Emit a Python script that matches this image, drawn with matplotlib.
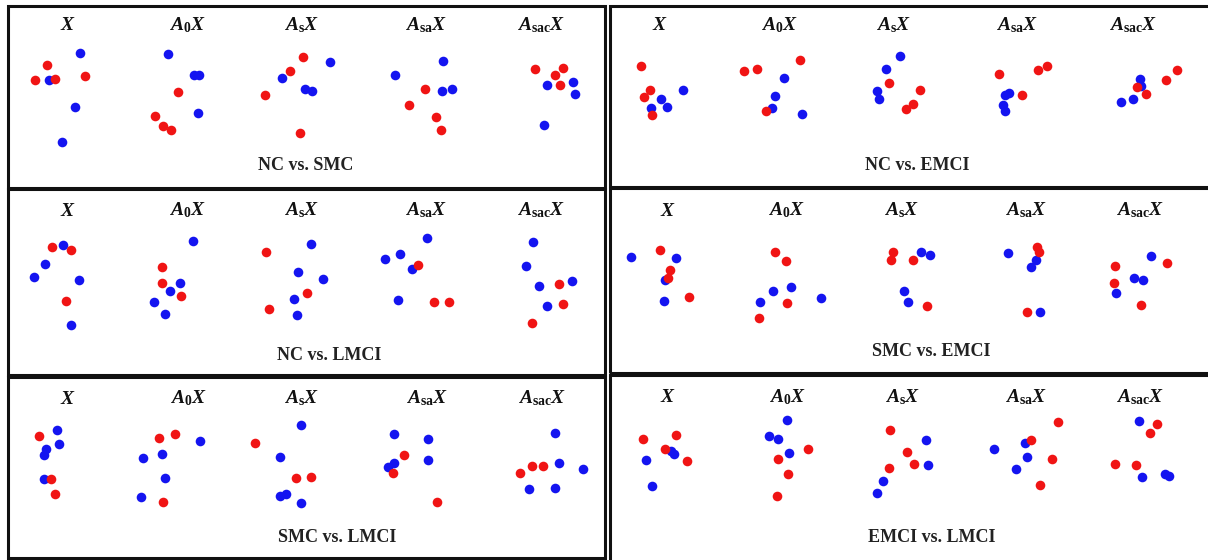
import matplotlib
matplotlib.use("Agg")
import matplotlib.pyplot as plt
from matplotlib.patches import Rectangle

plt.rcParams['mathtext.fontset'] = 'custom'
plt.rcParams['mathtext.it'] = 'Liberation Serif:italic:bold'
plt.rcParams['mathtext.rm'] = 'Liberation Serif:bold'
plt.rcParams['mathtext.bf'] = 'Liberation Serif:bold'

# ---------------- data ----------------
sub_titles = [r'$X$', r'$A_{\mathrm{0}}X$', r'$A_{\mathrm{s}}X$',
              r'$A_{\mathrm{sa}}X$', r'$A_{\mathrm{sac}}X$']
panel_titles = ['NC vs. SMC', 'NC vs. LMCI', 'SMC vs. LMCI',
                'NC vs. EMCI', 'SMC vs. EMCI', 'EMCI vs. LMCI']

# each list holds the 5 sub-plots (X, A0X, AsX, AsaX, AsacX) of one comparison
nc_smc_red_x = [[-21, -33, -13, 17], [-9, -32, -24, -16], [1, -12, -37, -2], [-1, -17, 10, 15], [-6, 22, 14, 19]]
nc_smc_red_y = [[85, 70, 71, 74], [58, 34, 24, 20], [93, 79, 55, 17], [61, 45, 33, 20], [81, 82, 75, 65]]
nc_smc_blue_x = [[12, -19, 7, -6], [-19, 7, 12, 11], [-20, 3, 10, 28], [17, -31, 16, 26], [6, 32, 34, 3]]
nc_smc_blue_y = [[97, 70, 43, 8], [96, 75, 75, 37], [72, 61, 59, 88], [89, 75, 59, 61], [65, 68, 56, 25]]

nc_lmci_red_x = [[-16, 3, -2], [-25, -25, -6], [-36, 5, -33], [-8, 8, 23], [18, 22, -9]]
nc_lmci_red_y = [[88, 85, 34], [68, 52, 39], [83, 42, 26], [70, 33, 33], [51, 31, 12]]
nc_lmci_blue_x = [[-5, -23, -34, 11, 3], [6, -7, -17, -33, -22], [9, -4, 21, -8, -5], [1, -26, -41, -14, -28], [-8, -15, -2, 31, 6]]
nc_lmci_blue_y = [[90, 71, 58, 55, 10], [94, 52, 44, 33, 21], [91, 63, 56, 36, 20], [97, 81, 76, 66, 35], [93, 69, 49, 54, 29]]

smc_lmci_red_x = [[-29, -17, -13], [-29, -13, -25], [-47, -6, 9], [-23, -34, 10], [-22, -10, 1]]
smc_lmci_red_y = [[87, 44, 29], [85, 89, 21], [80, 45, 46], [68, 50, 21], [50, 57, 57]]
smc_lmci_blue_x = [[-11, -9, -22, -24, -24], [12, -45, -26, -23, -47], [-1, -22, -22, -16, -1], [-33, 1, -33, -39, 1], [13, 17, 41, -13, 13]]
smc_lmci_blue_y = [[93, 79, 74, 68, 44], [82, 65, 69, 45, 26], [98, 66, 27, 29, 20], [89, 84, 60, 56, 63], [90, 60, 54, 34, 35]]

nc_emci_red_x = [[-19, -10, -16, -8], [-35, -22, 21, -13], [-5, 26, 19, 12], [-18, 21, 30, 5], [4, 13, 33, 44]]
nc_emci_red_y = [[84, 60, 53, 35], [79, 81, 90, 39], [67, 60, 46, 41], [76, 80, 84, 55], [63, 56, 70, 80]]
nc_emci_blue_x = [[1, 7, -9, 23], [5, -4, -7, 23], [6, -8, -17, -15], [-8, -12, -14, -12], [7, 8, 0, -12]]
nc_emci_blue_y = [[51, 43, 42, 60], [72, 54, 42, 36], [94, 81, 59, 51], [57, 55, 45, 39], [71, 64, 51, 48]]

smc_emci_red_x = [[-8, 2, 0, 21], [-11, 0, 1, -27], [-9, -11, 11, 25], [11, 13, 1], [27, -25, -26, 1]]
smc_emci_red_y = [[85, 65, 57, 38], [83, 74, 32, 17], [83, 75, 75, 29], [88, 83, 23], [72, 69, 52, 30]]
smc_emci_blue_x = [[-37, 8, -3, -4], [-13, 5, -26, 35], [19, 28, 2, 6], [-18, 10, 5, 14], [11, -6, 3, -24]]
smc_emci_blue_y = [[78, 77, 55, 34], [44, 48, 33, 37], [83, 80, 44, 33], [82, 75, 68, 23], [79, 57, 55, 42]]

emci_lmci_red_x = [[-25, 8, -3, 19], [21, -9, 1, -10], [-13, 4, 11, -14], [32, 5, 26, 14], [17, 10, -25, -4]]
emci_lmci_red_y = [[83, 87, 73, 61], [73, 63, 48, 26], [92, 70, 58, 54], [100, 82, 63, 37], [98, 89, 58, 57]]
emci_lmci_blue_x = [[3, 6, -22, -16], [0, -18, -9, 2], [23, 25, -20, -26], [-32, -1, 1, -10], [-1, 2, 25, 29]]
emci_lmci_blue_y = [[71, 68, 62, 36], [102, 86, 83, 69], [82, 57, 41, 29], [73, 79, 65, 53], [101, 45, 48, 46]]

panel_data = [
    (nc_smc_red_x, nc_smc_red_y, nc_smc_blue_x, nc_smc_blue_y),
    (nc_lmci_red_x, nc_lmci_red_y, nc_lmci_blue_x, nc_lmci_blue_y),
    (smc_lmci_red_x, smc_lmci_red_y, smc_lmci_blue_x, smc_lmci_blue_y),
    (nc_emci_red_x, nc_emci_red_y, nc_emci_blue_x, nc_emci_blue_y),
    (smc_emci_red_x, smc_emci_red_y, smc_emci_blue_x, smc_emci_blue_y),
    (emci_lmci_red_x, emci_lmci_red_y, emci_lmci_blue_x, emci_lmci_blue_y),
]

# ---------------- layout (pixels) ----------------
W, H = 1208, 560
panel_boxes = [  # x0, y0 (top), x1, y1 (bottom)
    (8, 6, 605, 188), (8, 189, 605, 375), (8, 377, 605, 558),
    (610, 6, 1215, 187), (610, 188, 1215, 373), (610, 375, 1215, 566),
]
sub_centers = [
    [68, 187, 302, 426, 541], [68, 187, 302, 426, 541], [68, 188, 302, 427, 542],
    [660, 779, 894, 1017, 1133], [668, 786, 902, 1026, 1140], [668, 787, 903, 1026, 1140],
]
title_y = [25, 210, 398, 25, 210, 397]
label_pos = [(306, 165), (329, 356), (337, 538), (917, 165), (931, 351), (932, 538)]

RED = '#f01414'
BLUE = '#1414f0'

fig = plt.figure(figsize=(W / 100, H / 100), dpi=100)
fig.patch.set_facecolor('white')


def fx(px):
    return px / W


def fy(py):
    return 1 - py / H


# panel frames
for (x0, y0, x1, y1) in panel_boxes:
    fig.patches.append(Rectangle((fx(x0), fy(y1)), fx(x1 - x0), (y1 - y0) / H,
                                 transform=fig.transFigure, fill=False,
                                 edgecolor='#111111', linewidth=2.2, zorder=5))

DEPTH = 125
for p, (rx, ry, bx, by) in enumerate(panel_data):
    ty = title_y[p]
    for s in range(5):
        cx = sub_centers[p][s]
        ax = fig.add_axes([fx(cx - 55), fy(ty + DEPTH), 110 / W, DEPTH / H])
        ax.set_xlim(-55, 55)
        ax.set_ylim(0, DEPTH)
        ax.axis('off')
        ax.patch.set_alpha(0)
        ax.scatter(bx[s], by[s], s=48, color=BLUE, linewidths=0, zorder=2)
        ax.scatter(rx[s], ry[s], s=48, color=RED, linewidths=0, zorder=3)
        fig.text(fx(cx), fy(ty), sub_titles[s], ha='center', va='center',
                 fontsize=14, color='#111111')
    lx, ly = label_pos[p]
    fig.text(fx(lx), fy(ly), panel_titles[p], ha='center', va='center',
             fontsize=13, fontweight='bold', family='Liberation Serif',
             color='#222222')

fig.savefig('out.png', dpi=100)
